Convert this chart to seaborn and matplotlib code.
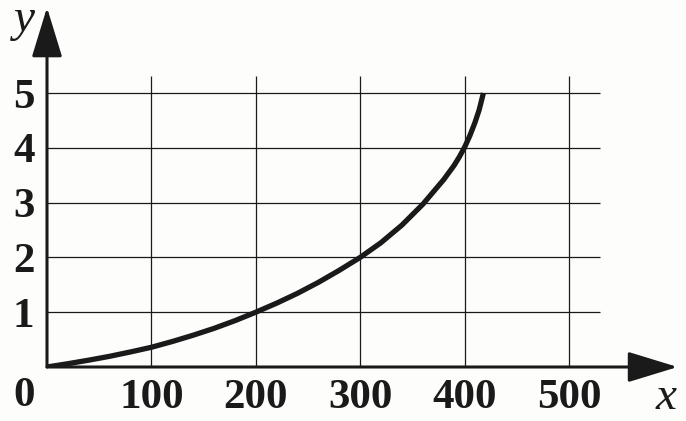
import numpy as np
import pandas as pd
import matplotlib
matplotlib.use("Agg")
import matplotlib.pyplot as plt
import seaborn as sns

# data
curve_x = [0, 20, 40, 60, 80, 100, 120, 140, 160, 180, 200, 220, 240, 260, 280, 300,
           320, 340, 360, 380, 390, 395, 400, 405, 410, 414, 418]
curve_y = [0.0, 0.06, 0.125, 0.195, 0.275, 0.36, 0.465, 0.58, 0.705, 0.845, 1.0,
           1.165, 1.345, 1.545, 1.765, 2.0, 2.27, 2.59, 2.97, 3.42, 3.68, 3.835, 4.01,
           4.22, 4.465, 4.695, 5.0]
x_ticks = [100, 200, 300, 400, 500]
y_ticks = [1, 2, 3, 4, 5]
x_tick_labels = ["100", "200", "300", "400", "500"]
y_tick_labels = ["1", "2", "3", "4", "5"]

df = pd.DataFrame({"x": curve_x, "y": curve_y})

sns.set_style("white")
plt.rcParams["font.family"] = ["Liberation Serif", "DejaVu Serif"]

W, H = 686, 421
fig = plt.figure(figsize=(W / 100, H / 100), dpi=100)
bg = "#fdfdfb"
fig.patch.set_facecolor(bg)

ox, oy = 47, 367          # origin in pixels
sx, sy = 1.044, 54.8      # pixels per data unit
ax = fig.add_axes([ox / W, (H - oy) / H, (W - ox) / W, oy / H])
ax.set_facecolor(bg)
ax.set_xlim(0, (W - ox) / sx)
ax.set_ylim(0, oy / sy)
for s in ax.spines.values():
    s.set_visible(False)

ink = "#1a1a1a"
# grid
ax.vlines(x_ticks, 0, 5.31, color=ink, lw=0.9, zorder=1)
ax.hlines(y_ticks, 0, 530, color=ink, lw=0.9, zorder=1)

# curve
sns.lineplot(data=df, x="x", y="y", ax=ax, color=ink, lw=3.8, zorder=3,
             solid_capstyle="butt", solid_joinstyle="round")

# axes with arrows
arrow = dict(arrowstyle="-|>,head_length=31,head_width=9.5", color=ink, lw=2.2,
             shrinkA=0, shrinkB=0, mutation_scale=1)
ax.annotate("", xy=(604, 0), xytext=(0, 0), arrowprops=arrow, annotation_clip=False, zorder=4)
ax.annotate("", xy=(0, 6.56), xytext=(0, 0), arrowprops=arrow, annotation_clip=False, zorder=4)

# ticks
ax.set_xticks(x_ticks)
ax.set_xticklabels(x_tick_labels)
ax.set_yticks(y_ticks)
ax.set_yticklabels(y_tick_labels)
ax.tick_params(axis="both", length=0, labelsize=31, labelcolor=ink)
ax.tick_params(axis="x", pad=9)
ax.tick_params(axis="y", pad=9)
for lab in ax.get_xticklabels() + ax.get_yticklabels():
    lab.set_fontweight("bold")
ax.set_xlabel("")
ax.set_ylabel("")

fig.text(24 / W, 1 - 396 / H, "0", fontsize=31, fontweight="bold", color=ink,
         ha="center", va="center")
fig.text(666 / W, 1 - 398 / H, "x", fontsize=34, style="italic", color=ink,
         ha="center", va="center")
fig.text(24 / W, 1 - 20 / H, "y", fontsize=34, style="italic", color=ink,
         ha="center", va="center")

fig.savefig("out.png", dpi=100, facecolor=bg)
